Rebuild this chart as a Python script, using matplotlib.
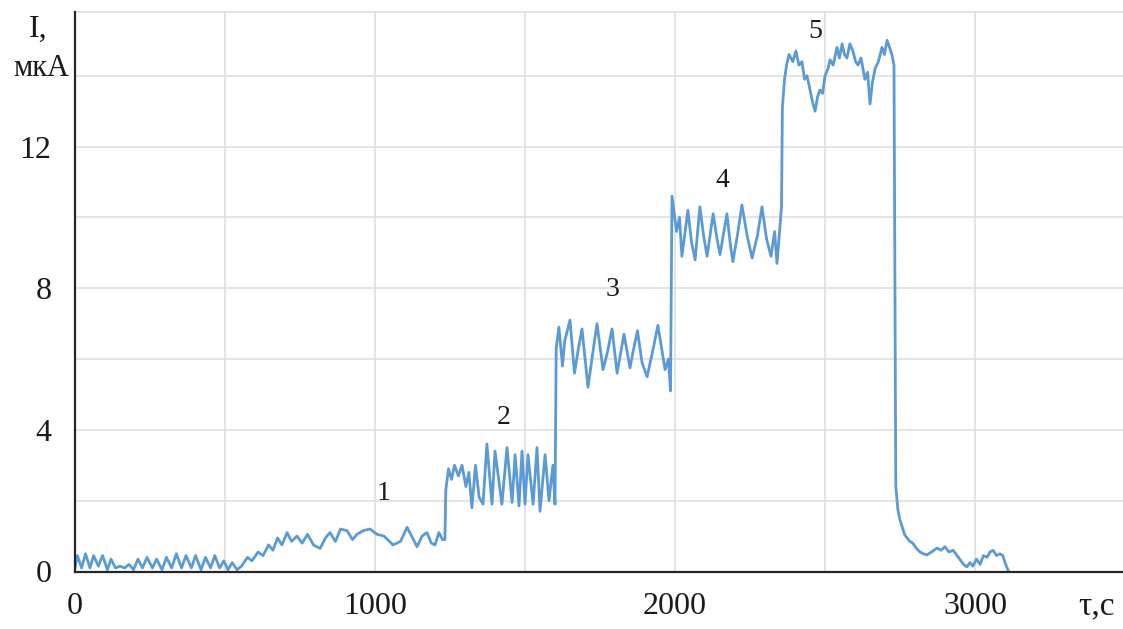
import matplotlib
matplotlib.use('Agg')
import matplotlib.pyplot as plt
from matplotlib.ticker import MultipleLocator
import numpy as np

# --- data (t in s, I in uA) ---
t_base = [0, 8, 22, 35, 50, 62, 78, 92, 108, 120, 135, 150, 165, 180, 195, 210, 225, 240, 258, 272,
          290, 305, 322, 338, 355, 370, 388, 402, 420, 435, 452, 466, 482, 496, 510, 524, 540]
i_base = [0.1, 0.45, 0.1, 0.5, 0.1, 0.45, 0.15, 0.45, 0.05, 0.35, 0.1, 0.15, 0.1, 0.2, 0.05, 0.35, 0.1, 0.4, 0.1, 0.35,
          0.05, 0.4, 0.1, 0.5, 0.1, 0.45, 0.1, 0.45, 0.05, 0.4, 0.1, 0.45, 0.1, 0.3, 0.05, 0.25, 0.05]

t_step1 = [555, 575, 590, 610, 627, 645, 660, 675, 690, 707, 722, 740, 757, 775, 795, 817, 835, 850, 868, 885,
           907, 925, 940, 960, 983, 1007, 1030, 1060, 1085, 1107, 1125, 1140, 1157, 1173, 1188, 1200, 1213, 1225]
i_step1 = [0.15, 0.4, 0.3, 0.55, 0.45, 0.75, 0.6, 0.95, 0.75, 1.1, 0.85, 1.0, 0.8, 1.05, 0.75, 0.65, 0.95, 1.1, 0.85, 1.2,
           1.15, 0.9, 1.05, 1.15, 1.2, 1.05, 1.0, 0.75, 0.85, 1.25, 0.95, 0.7, 1.0, 1.1, 0.8, 0.75, 1.1, 0.9]

t_step2 = [1233, 1236, 1245, 1255, 1265, 1278, 1290, 1303, 1313, 1323, 1335, 1347, 1360, 1373, 1390, 1400, 1423, 1440,
           1457, 1467, 1480, 1490, 1500, 1510, 1527, 1540, 1550, 1567, 1580, 1593, 1600]
i_step2 = [0.9, 2.3, 2.9, 2.6, 3.0, 2.7, 3.0, 2.4, 2.8, 1.8, 3.0, 2.1, 1.9, 3.6, 1.9, 3.4, 1.9, 3.5,
           1.95, 3.3, 1.85, 3.4, 1.9, 3.3, 1.9, 3.5, 1.7, 3.3, 2.0, 3.0, 1.9]

t_step3 = [1604, 1613, 1625, 1632, 1650, 1665, 1678, 1690, 1710, 1723, 1740, 1760, 1775, 1790, 1807, 1830, 1850, 1860,
           1875, 1890, 1907, 1925, 1943, 1967, 1978, 1985]
i_step3 = [6.3, 6.9, 5.8, 6.5, 7.1, 5.6, 6.3, 6.85, 5.2, 6.0, 7.0, 5.7, 6.2, 6.85, 5.6, 6.7, 5.75, 6.2,
           6.8, 5.9, 5.5, 6.2, 6.95, 5.7, 6.0, 5.1]

t_step4 = [1990, 2005, 2015, 2023, 2043, 2055, 2067, 2083, 2095, 2107, 2127, 2140, 2150, 2173, 2185, 2193, 2210, 2223,
           2240, 2257, 2275, 2290, 2305, 2320, 2332, 2340, 2355]
i_step4 = [10.6, 9.6, 10.0, 8.9, 10.2, 9.3, 8.8, 10.3, 9.5, 8.9, 10.1, 9.4, 8.95, 10.1, 9.2, 8.75, 9.6, 10.35,
           9.5, 8.85, 9.5, 10.3, 9.4, 8.9, 9.6, 8.7, 10.3]

t_step5 = [2358, 2365, 2372, 2380, 2393, 2403, 2413, 2423, 2432, 2440, 2450, 2460, 2467, 2475, 2483, 2492, 2500, 2510,
           2517, 2527, 2540, 2548, 2557, 2565, 2573, 2583, 2593, 2602, 2610, 2620, 2633, 2642, 2650, 2658, 2667, 2678,
           2690, 2698, 2707, 2715, 2723, 2730]
i_step5 = [13.1, 13.9, 14.3, 14.6, 14.4, 14.7, 14.3, 14.4, 13.9, 14.0, 13.6, 13.2, 13.0, 13.4, 13.6, 13.5, 14.0, 14.2,
           14.45, 14.3, 14.8, 14.5, 14.9, 14.6, 14.5, 14.9, 14.7, 14.4, 14.3, 14.5, 13.9, 14.1, 13.2, 13.8, 14.2, 14.4,
           14.8, 14.6, 15.0, 14.8, 14.6, 14.3]

t_decay = [2736, 2743, 2750, 2757, 2765, 2773, 2783, 2793, 2805, 2817, 2828, 2840, 2855, 2873, 2887, 2900, 2913, 2927,
           2940, 2950, 2962, 2973, 2983, 2993, 3005, 3017, 3028, 3040, 3050, 3060, 3072, 3083, 3093, 3100, 3110]
i_decay = [2.4, 1.74, 1.45, 1.27, 1.05, 0.95, 0.85, 0.8, 0.65, 0.55, 0.5, 0.47, 0.55, 0.66, 0.6, 0.7, 0.55, 0.6,
           0.45, 0.33, 0.2, 0.13, 0.25, 0.15, 0.35, 0.2, 0.45, 0.4, 0.55, 0.6, 0.45, 0.5, 0.45, 0.25, 0.04]

step_labels = ["1", "2", "3", "4", "5"]
label_t = [1027, 1430, 1793, 2157, 2467]
label_i = [2.2, 4.35, 7.95, 11.05, 15.25]

COLOR_LINE = "#5B9BD5"
COLOR_GRID = "#DCDCDC"
COLOR_AXIS = "#262626"
COLOR_TEXT = "#1a1a1a"
SERIF = ['Liberation Serif', 'DejaVu Serif']

t_all = t_base + t_step1 + t_step2 + t_step3 + t_step4 + t_step5 + t_decay
i_all = i_base + i_step1 + i_step2 + i_step3 + i_step4 + i_step5 + i_decay

W, H = 1123, 629
fig = plt.figure(figsize=(W / 100, H / 100), dpi=100, facecolor='white')
ax = fig.add_axes([75 / W, (H - 571.5) / H, (W - 75) / W, (571.5 - 12) / H])

ax.plot(t_all, i_all, color=COLOR_LINE, linewidth=2.0, zorder=3)

ax.set_xlim(0, (W - 75) / 0.3)
ax.set_ylim(0, 15.8)

ax.xaxis.set_major_locator(MultipleLocator(1000))
ax.xaxis.set_minor_locator(MultipleLocator(500))
ax.yaxis.set_major_locator(MultipleLocator(4))
ax.yaxis.set_minor_locator(MultipleLocator(2))
ax.grid(which='both', color=COLOR_GRID, linewidth=1.1, zorder=0)
ax.set_axisbelow(True)

ax.tick_params(which='both', length=0, labelcolor=COLOR_TEXT)
ax.tick_params(axis='x', pad=15, labelsize=23)
ax.tick_params(axis='y', pad=17, labelsize=23)
for lab in ax.get_xticklabels() + ax.get_yticklabels():
    lab.set_family(SERIF)

for side in ['left', 'bottom']:
    ax.spines[side].set_color(COLOR_AXIS)
    ax.spines[side].set_linewidth(1.6)
    ax.spines[side].set_zorder(4)
ax.spines['right'].set_visible(False)
ax.spines['top'].set_color(COLOR_GRID)
ax.spines['top'].set_linewidth(1.1)

for s, x, y in zip(step_labels, label_t, label_i):
    ax.text(x, y, s, ha='center', va='center', fontsize=20, family=SERIF, color=COLOR_TEXT)

# axis captions placed in figure pixels
fig.text(38 / W, 1 - 29 / H, "I,", ha='center', va='center', fontsize=23, family=SERIF, color=COLOR_TEXT)
fig.text(41 / W, 1 - 68 / H, "мкА", ha='center', va='center', fontsize=22, family=SERIF, color=COLOR_TEXT)
fig.text(1097 / W, 1 - 606 / H, "τ,c", ha='center', va='center', fontsize=24, family=SERIF, color=COLOR_TEXT)

fig.savefig("out.png", dpi=100, facecolor='white')
